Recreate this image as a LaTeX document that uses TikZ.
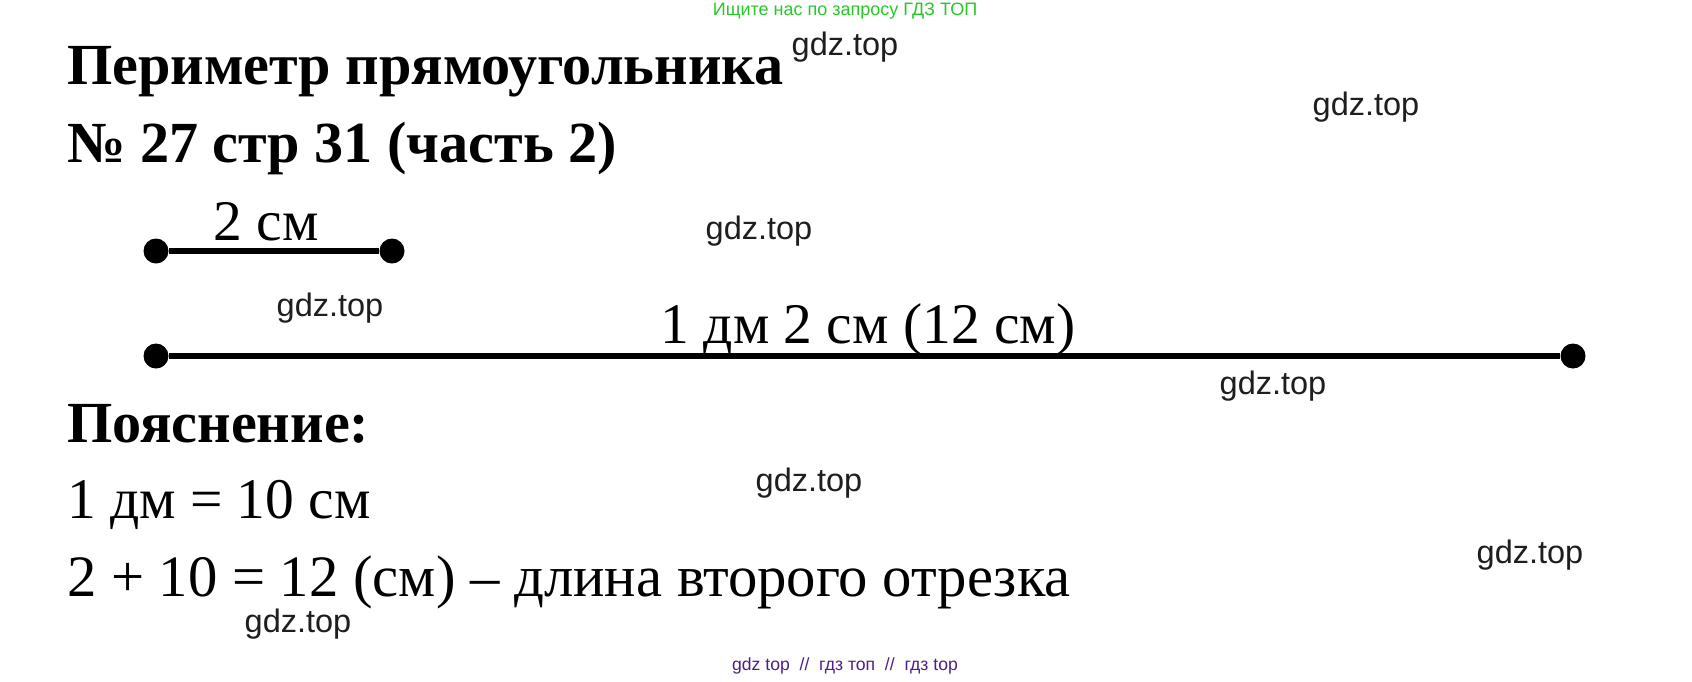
\documentclass[tikz,border=0pt]{standalone}
\usepackage{fontspec}
\setmainfont{Liberation Serif}
\newfontfamily\wmfont{Liberation Sans}
\definecolor{wmgreen}{RGB}{40,200,40}
\definecolor{wmpurple}{RGB}{80,30,140}
\definecolor{wmgray}{RGB}{30,30,30}
\begin{document}
\begin{tikzpicture}[x=1pt,y=-1pt,
  txt/.style={inner sep=0pt,outer sep=0pt,anchor=base west,font=\fontsize{57.5}{60}\selectfont},
  bold/.style={txt,font=\fontsize{58.2}{60}\selectfont\bfseries},
  lbl/.style={txt,anchor=base},
  dot/.style={circle,fill=black,inner sep=0pt,minimum size=25pt},
  seg/.style={line width=6.5pt},
  wm/.style={inner sep=0pt,text=wmgray,font=\wmfont\fontsize{32.5}{34}\selectfont},
  wmtop/.style={inner sep=0pt,text=wmgreen,font=\wmfont\fontsize{18}{20}\selectfont},
  wmbot/.style={inner sep=0pt,text=wmpurple,font=\wmfont\fontsize{17.6}{20}\selectfont}]
\useasboundingbox (0,0) rectangle (1692,681);
\fill[white] (0,0) rectangle (1692,681);
% watermarks
\node[wmtop] (wt) at (845,11) {Ищите нас по запросу ГДЗ ТОП};
\node[wmbot] (wb) at (845,666) {gdz top \ // \ гдз топ \ // \ гдз top};
\node[wm] (g1) at (845,47) {gdz.top};
\node[wm] (g2) at (1366,107) {gdz.top};
\node[wm] (g3) at (759,231) {gdz.top};
\node[wm] (g4) at (330,308) {gdz.top};
\node[wm] (g5) at (1273,386) {gdz.top};
\node[wm] (g6) at (809,483) {gdz.top};
\node[wm] (g7) at (1530,555) {gdz.top};
\node[wm] (g8) at (298,624) {gdz.top};
% titles
\node[bold] (t1) at (67,84) {Периметр прямоугольника};
\node[bold] (t2) at (67,162) {№ 27 стр 31 (часть 2)};
% segment 1
\node[dot] (a1) at (156,251) {};
\node[dot] (b1) at (392,251) {};
\draw[seg] (a1) -- (b1);
\node[lbl] (l1) at (266,240) {2 см};
% segment 2
\node[dot] (a2) at (156,356) {};
\node[dot] (b2) at (1573,356) {};
\draw[seg] (a2) -- (b2);
\node[lbl] (l2) at (868,343) {1 дм 2 см (12 см)};
% explanation
\node[bold] (p) at (67,442) {Пояснение:};
\node[txt] (e1) at (67,518) {1 дм = 10 см};
\node[txt,font=\fontsize{58.7}{60}\selectfont] (e2) at (67,596) {2 + 10 = 12 (см) – длина второго отрезка};
\end{tikzpicture}
\end{document}
